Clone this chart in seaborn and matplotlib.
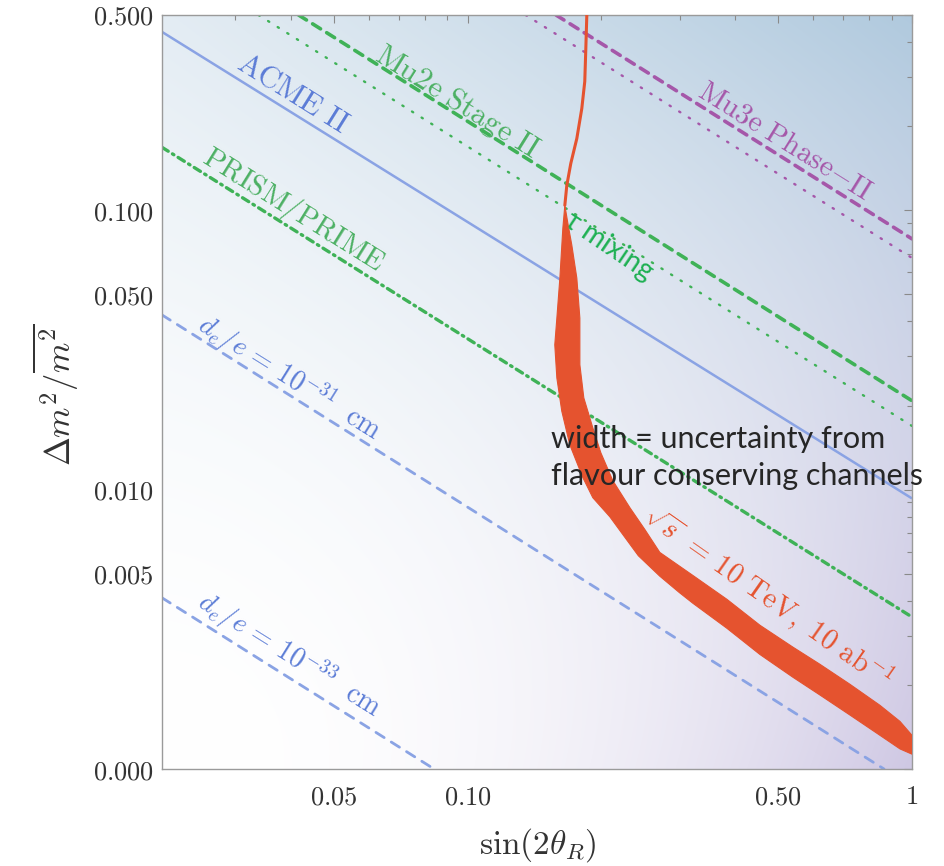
import numpy as np
import matplotlib
matplotlib.use("Agg")
import matplotlib.pyplot as plt
from matplotlib.ticker import NullFormatter, LogLocator
import seaborn as sns

# ---------------- data ----------------
acme_x = [0.0205, 1.0]
acme_y = [0.435, 0.0093]
mu2e_dash_x = [0.0416, 1.0]
mu2e_dash_y = [0.5, 0.0208]
mu2e_dot_x = [0.0338, 1.0]
mu2e_dot_y = [0.5, 0.0169]
mu3e_dash_x = [0.158, 1.0]
mu3e_dash_y = [0.5, 0.079]
mu3e_dot_x = [0.135, 1.0]
mu3e_dot_y = [0.5, 0.0675]
prism_x = [0.0205, 1.0]
prism_y = [0.168, 0.0035]
de31_x = [0.0205, 0.865]
de31_y = [0.0422, 0.001]
de33_x = [0.0205, 0.084]
de33_y = [0.0041, 0.001]

# thin top part of the sqrt(s)=10 TeV curve
thin_x = [0.1854, 0.1844, 0.1834, 0.1806, 0.1760, 0.1706, 0.1671, 0.1654]
thin_y = [0.505, 0.379, 0.289, 0.2313, 0.1807, 0.1472, 0.1228, 0.1042]
# band: upper/right edge
band_up_x = [0.1654, 0.1680, 0.1715, 0.1760, 0.1788, 0.1788, 0.1825, 0.1912, 0.1993,
             0.2121, 0.2317, 0.2504, 0.2706, 0.3212, 0.3831, 0.4547, 0.5395, 0.6206,
             0.7250, 0.8470, 0.9397, 1.0]
band_up_y = [0.1042, 0.0899, 0.0750, 0.0572, 0.0411, 0.0280, 0.0213, 0.01665, 0.01356,
             0.01077, 0.00862, 0.00720, 0.00596, 0.00493, 0.00405, 0.00327, 0.00273,
             0.00237, 0.00201, 0.00169, 0.00148, 0.00132]
# band: lower/left edge
band_lo_x = [0.1654, 0.1637, 0.1612, 0.1587, 0.1570, 0.1587, 0.1628, 0.1697, 0.1816,
             0.1912, 0.2088, 0.2250, 0.2421, 0.2706, 0.2995, 0.3212, 0.3831, 0.4547,
             0.5395, 0.6206, 0.7250, 0.8470, 0.9397, 1.0]
band_lo_y = [0.1042, 0.0862, 0.0572, 0.0411, 0.0330, 0.0251, 0.0191, 0.01448, 0.01104,
             0.00936, 0.00800, 0.00680, 0.00580, 0.00490, 0.00428, 0.00392, 0.00319,
             0.00257, 0.00213, 0.00184, 0.00156, 0.00132, 0.00118, 0.00113]

xticks = [0.05, 0.1, 0.5, 1.0]
xtick_labels = ["0.05", "0.10", "0.50", "1"]
yticks = [0.001, 0.005, 0.01, 0.05, 0.1, 0.5]
ytick_labels = ["0.000", "0.005", "0.010", "0.050", "0.100", "0.500"]

# ---------------- style ----------------
sns.set_theme(style="white")
plt.rcParams["font.family"] = ["DejaVu Serif"]
plt.rcParams["mathtext.fontset"] = "cm"

BLUE_L = "#8aa3e4"
BLUE_T = "#5b7cd6"
GREEN_L = "#3fb257"
GREEN_T = "#4cb063"
PURPLE = "#a557a9"
RED = "#e5532f"
TAU = "#1db052"

fig = plt.figure(figsize=(9.45, 8.66), dpi=100)
L, R, T, B = 162, 912, 15, 769
ax = fig.add_axes([L / 945, 1 - B / 866, (R - L) / 945, (B - T) / 866])
ax.set_xscale("log")
ax.set_yscale("log")
ax.set_xlim(0.0205, 1.0)
ax.set_ylim(0.001, 0.5)

# background shading
n = 300
U, V = np.meshgrid(np.linspace(0, 1, n), np.linspace(0, 1, n))
wb = V ** 1.8 * (0.35 + 0.65 * U ** 1.1)
wp = (U ** 2.2) * (1 - V) * 0.9
blue_c = np.array([0.69, 0.79, 0.87])
purp_c = np.array([0.79, 0.76, 0.88])
img = 1 - wb[..., None] * (1 - blue_c) - wp[..., None] * (1 - purp_c)
img = np.clip(img, 0, 1)
ax.imshow(img, extent=[0, 1, 0, 1], origin="lower", transform=ax.transAxes,
          aspect="auto", zorder=0, interpolation="bilinear")


def line(x, y, color, lw, ls):
    sns.lineplot(x=x, y=y, ax=ax, color=color, lw=lw, sort=False, estimator=None)
    ln = ax.lines[-1]
    ln.set_linestyle(ls)
    ln.set_zorder(2)
    ln.set_solid_capstyle("butt")
    ln.set_dash_capstyle("round")
    return ln


line(acme_x, acme_y, BLUE_L, 1.8, "-")
line(de31_x, de31_y, BLUE_L, 2.0, (0, (3.5, 3.0)))
line(de33_x, de33_y, BLUE_L, 2.0, (0, (3.5, 3.0)))
line(mu2e_dash_x, mu2e_dash_y, GREEN_L, 2.6, (0, (2.6, 2.0)))
line(mu2e_dot_x, mu2e_dot_y, GREEN_L, 1.7, (0, (0.6, 4.2)))
line(prism_x, prism_y, GREEN_L, 2.4, (0, (2.2, 1.5, 0.5, 1.5)))
line(mu3e_dash_x, mu3e_dash_y, PURPLE, 2.6, (0, (2.6, 2.0)))
line(mu3e_dot_x, mu3e_dot_y, PURPLE, 1.7, (0, (0.6, 4.2)))

# red band
bx = np.concatenate([band_up_x, band_lo_x[::-1]])
by = np.concatenate([band_up_y, band_lo_y[::-1]])
ax.fill(bx, by, color=RED, lw=0.8, ec=RED, zorder=3)
sns.lineplot(x=thin_x, y=thin_y, ax=ax, color=RED, lw=2.2, sort=False, estimator=None)
ax.lines[-1].set_zorder(3)

# ticks & axes
ax.set_xticks(xticks)
ax.set_xticklabels([f"${t}$" for t in xtick_labels])
ax.set_yticks(yticks)
ax.set_yticklabels([f"${t}$" for t in ytick_labels])
ax.xaxis.set_minor_locator(LogLocator(base=10, subs=np.arange(2, 10)))
ax.yaxis.set_minor_locator(LogLocator(base=10, subs=np.arange(2, 10)))
ax.xaxis.set_minor_formatter(NullFormatter())
ax.yaxis.set_minor_formatter(NullFormatter())
ax.tick_params(which="both", direction="in", top=True, right=True, color="#8a8a8a",
               width=0.8)
ax.tick_params(which="major", length=6)
ax.tick_params(which="minor", length=3.5)
ax.tick_params(axis="x", labelsize=19, pad=11, labelcolor="#333333")
ax.tick_params(axis="y", labelsize=19, pad=6, labelcolor="#333333")
for s in ax.spines.values():
    s.set_color("#9a9a9a")
    s.set_linewidth(1.0)

ax.set_xlabel(r"$\sin(2\theta_R)$", fontsize=24, color="#333333")
ax.xaxis.set_label_coords((538 - L) / (R - L), (B - 845) / (B - T))
ax.xaxis.label.set_va("center")
ax.set_ylabel(r"$\Delta m^2/\overline{m^2}$", fontsize=25, color="#333333")
ax.yaxis.set_label_coords((56 - L) / (R - L), (B - 395) / (B - T))
ax.yaxis.label.set_va("center")


def frac(px, py):
    return ((px - L) / (R - L), (B - py) / (B - T))


def label(px, py, s, color, size, rot, **kw):
    fx, fy = frac(px, py)
    ax.text(fx, fy, s, transform=ax.transAxes, color=color, fontsize=size,
            rotation=rot, rotation_mode="anchor", ha="center", va="center",
            zorder=5, clip_on=False, **kw)


label(293, 93, r"$\mathrm{ACME\ II}$", BLUE_T, 22, -32)
label(457, 102, r"$\mathrm{Mu2e\ Stage\ II}$", GREEN_T, 22, -32)
label(785, 141, r"$\mathrm{Mu3e\ Phase{-}II}$", PURPLE, 21, -32)
label(294, 210, r"$\mathrm{PRISM/PRIME}$", GREEN_T, 21, -32)
label(290, 378, r"$d_e/e\,=\,10^{-31}\ \ \mathrm{cm}$", BLUE_T, 20, -32)
label(290, 655, r"$d_e/e\,=\,10^{-33}\ \ \mathrm{cm}$", BLUE_T, 20, -32)
label(768, 597, r"$\sqrt{s}\ =\,10\ \mathrm{TeV},\ 10\ \mathrm{ab}^{-1}$", RED, 21, -35)
label(609, 246, "τ mixing", TAU, 20, -34, family=["Lato", "DejaVu Sans"])

for py, s in [(448, "width = uncertainty from"), (485, "flavour conserving channels")]:
    fx, fy = frac(551, py)
    ax.text(fx, fy, s, transform=ax.transAxes, fontsize=22, color="#262626",
            family=["Lato", "DejaVu Sans"], fontweight="normal", ha="left",
            va="baseline", zorder=6, clip_on=False)

fig.savefig("out.png", dpi=100)
